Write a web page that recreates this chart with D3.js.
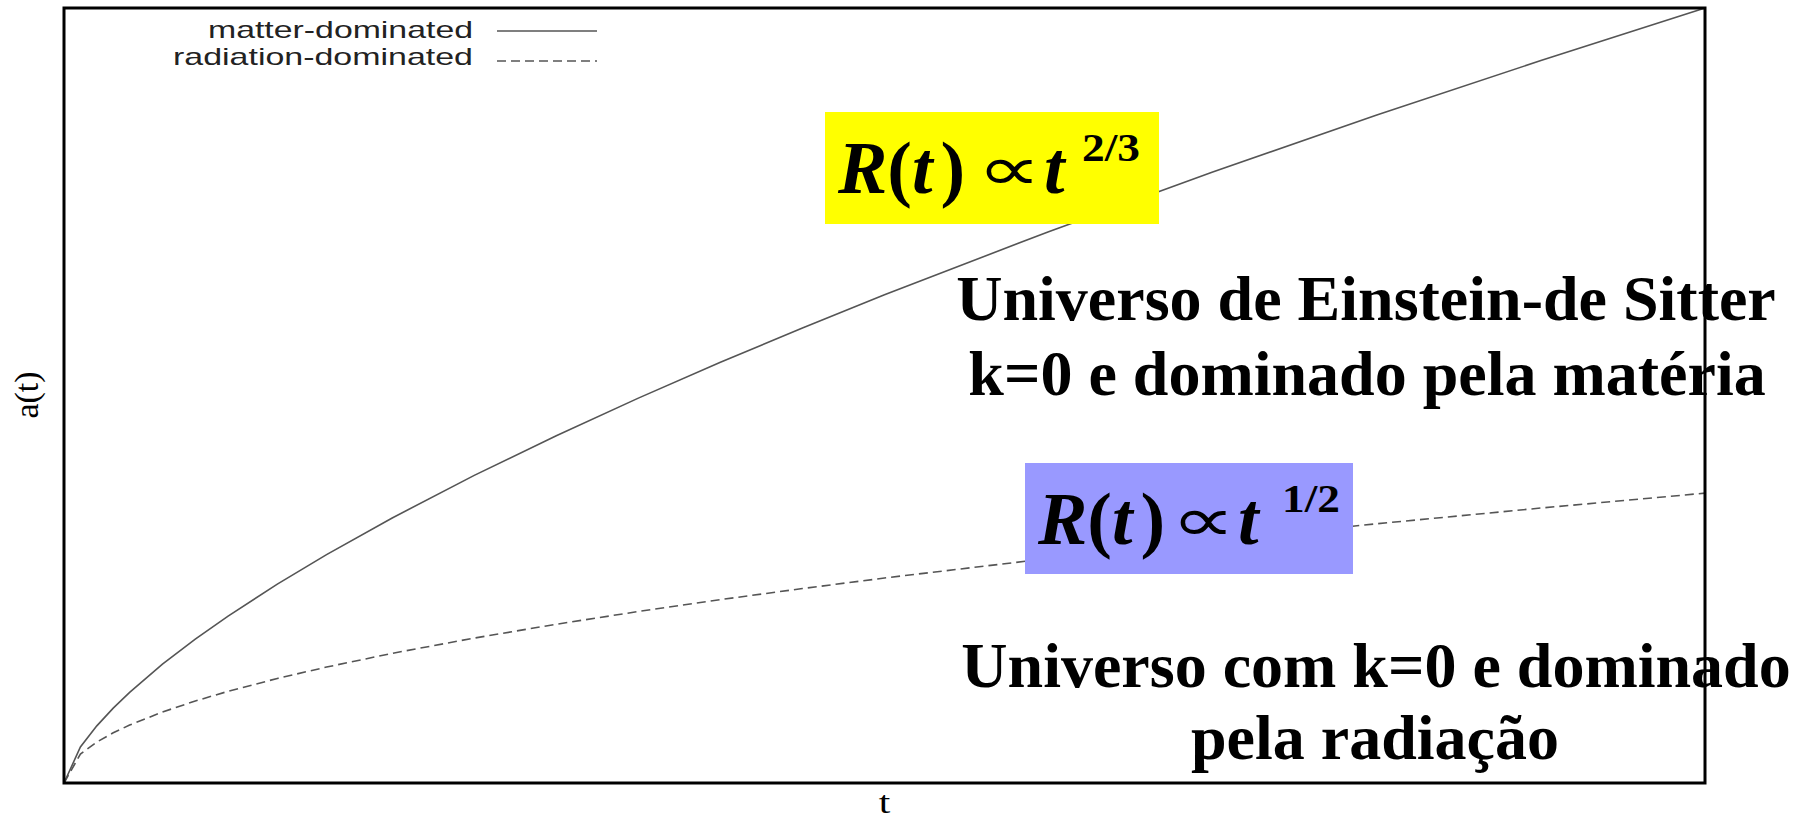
<!DOCTYPE html>
<html lang="pt">
<head>
<meta charset="UTF-8">
<title>a(t): matter vs radiation dominated</title>
<script src="https://d3js.org/d3.v7.min.js"></script>
<style>
  body { margin: 0; background: #fff; }
  svg { display: block; }
</style>
</head>
<body>
<div id="chart"></div>
<script>
// time samples (fraction of the plotted range)
const tValues = [0, 0.01, 0.02, 0.03, 0.04, 0.06, 0.08, 0.1, 0.13, 0.16, 0.2, 0.25,
                 0.3, 0.35, 0.4, 0.45, 0.5, 0.6, 0.7, 0.8, 0.9, 1.0];
// scale factor, matter-dominated (solid)
const matterValues = [0, 0.0464, 0.0737, 0.0966, 0.1170, 0.1533, 0.1857, 0.2154, 0.2566,
                      0.2947, 0.3420, 0.3969, 0.4481, 0.4966, 0.5429, 0.5872, 0.6300,
                      0.7114, 0.7884, 0.8618, 0.9322, 1.0];
// radiation-dominated (dashed)
const radiationValues = [0, 0.0374, 0.0529, 0.0648, 0.0748, 0.0916, 0.1058, 0.1183, 0.1349,
                         0.1496, 0.1673, 0.1870, 0.2048, 0.2213, 0.2366, 0.2509, 0.2645,
                         0.2897, 0.3129, 0.3345, 0.3548, 0.3740];
const seriesNames = ["matter-dominated", "radiation-dominated"];

const width = 1810, height = 821;
const box = { left: 64, right: 1705, top: 8, bottom: 783 };

const svg = d3.select("#chart").append("svg")
    .attr("width", width)
    .attr("height", height);

const x = d3.scaleLinear().domain([0, 1]).range([box.left, box.right]);
const y = d3.scaleLinear().domain([0, 1]).range([box.bottom, box.top]);

const line = d3.line()
    .x((d, i) => x(tValues[i]))
    .y(d => y(d));

// curves
svg.append("path")
    .datum(matterValues)
    .attr("d", line)
    .attr("fill", "none")
    .attr("stroke", "#555")
    .attr("stroke-width", 1.6);

svg.append("path")
    .datum(radiationValues)
    .attr("d", line)
    .attr("fill", "none")
    .attr("stroke", "#555")
    .attr("stroke-width", 1.6)
    .attr("stroke-dasharray", "9,5");

// frame
svg.append("rect")
    .attr("x", box.left)
    .attr("y", box.top)
    .attr("width", box.right - box.left)
    .attr("height", box.bottom - box.top)
    .attr("fill", "none")
    .attr("stroke", "#000")
    .attr("stroke-width", 3);

// axis titles
svg.append("text")
    .attr("transform", "translate(" + ((box.left + box.right) / 2) + ",813) scale(1.3,1)")
    .attr("text-anchor", "middle")
    .style("font-family", "'Liberation Serif', serif")
    .style("font-size", "32px")
    .text("t");

svg.append("text")
    .attr("transform", "translate(38,395) rotate(-90)")
    .attr("text-anchor", "middle")
    .style("font-family", "'Liberation Serif', serif")
    .style("font-size", "34px")
    .text("a(t)");

// legend
const legend = svg.append("g");
const legendWidths = [265, 300];
seriesNames.forEach((name, i) => {
    legend.append("text")
        .attr("x", 473)
        .attr("y", 38 + i * 27)
        .attr("text-anchor", "end")
        .attr("textLength", legendWidths[i])
        .attr("lengthAdjust", "spacingAndGlyphs")
        .style("font-family", "'Liberation Sans', Arial, sans-serif")
        .style("font-size", "24px")
        .style("fill", "#222")
        .text(name);
    legend.append("line")
        .attr("x1", 497).attr("x2", 597)
        .attr("y1", 31 + i * 30).attr("y2", 31 + i * 30)
        .attr("stroke", "#555")
        .attr("stroke-width", 1.6)
        .attr("stroke-dasharray", i === 0 ? null : "9,5");
});

// formula boxes: R(t) ∝ t^exponent
const serif = "'Liberation Serif', 'Times New Roman', serif";
function formula(bx, by, bw, bh, fill, exponent, tOffset) {
    const g = svg.append("g").attr("transform", "translate(" + bx + "," + by + ")");
    g.append("rect")
        .attr("width", bw).attr("height", bh)
        .attr("fill", fill);
    const rt = g.append("text")
        .attr("x", 13).attr("y", 81)
        .style("font-family", serif)
        .style("font-size", "74px")
        .style("font-weight", "bold");
    rt.append("tspan").style("font-style", "italic").text("R");
    rt.append("tspan").text("(");
    rt.append("tspan").style("font-style", "italic").text("t");
    rt.append("tspan").attr("dx", 8).text(")");
    g.append("text")
        .attr("transform", "translate(" + (tOffset - 32) + ",78) scale(1.45,1)")
        .attr("text-anchor", "middle")
        .style("font-family", "'DejaVu Sans', sans-serif")
        .style("font-size", "62px")
        .text("\u221D");
    g.append("text")
        .attr("x", tOffset + 3).attr("y", 81)
        .style("font-family", serif)
        .style("font-size", "74px")
        .style("font-weight", "bold")
        .style("font-style", "italic")
        .text("t");
    g.append("text")
        .attr("x", 257).attr("y", 49)
        .attr("textLength", 58)
        .attr("lengthAdjust", "spacingAndGlyphs")
        .style("font-family", serif)
        .style("font-size", "41px")
        .style("font-weight", "bold")
        .text(exponent);
}
formula(825, 112, 334, 112, "#ffff00", "2/3", 216);
formula(1025, 463, 328, 111, "#9999ff", "1/2", 210);

// captions
const captions = [
    { text: "Universo de Einstein-de Sitter", cx: 1366, y: 320 },
    { text: "k=0 e dominado pela matéria", cx: 1367, y: 395 },
    { text: "Universo com k=0 e dominado", cx: 1376, y: 687 },
    { text: "pela radiação", cx: 1375, y: 759 }
];
svg.selectAll("text.caption")
    .data(captions)
    .enter()
    .append("text")
    .attr("class", "caption")
    .attr("x", d => d.cx)
    .attr("y", d => d.y)
    .attr("text-anchor", "middle")
    .style("font-family", serif)
    .style("font-size", "64px")
    .style("font-weight", "bold")
    .text(d => d.text);
</script>
</body>
</html>
